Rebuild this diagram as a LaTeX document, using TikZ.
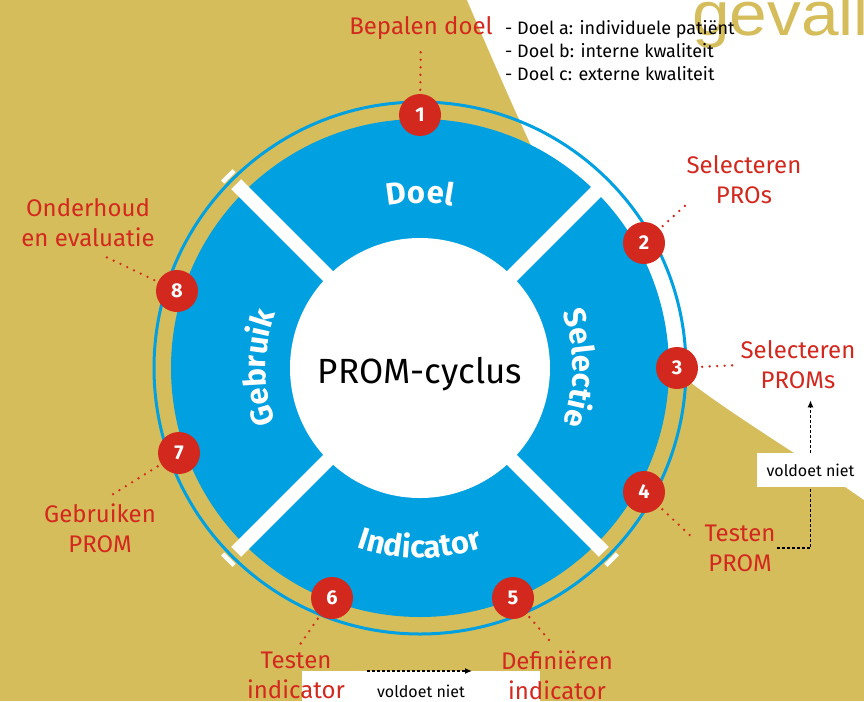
\documentclass[tikz,border=0pt]{standalone}
\usepackage{fontspec}
\setmainfont{Fira Sans}
\newfontfamily\gevfont{Liberation Sans}
\usetikzlibrary{arrows.meta,positioning,calc,decorations.text}

\definecolor{goud}{RGB}{214,189,92}
\definecolor{rvblauw}{RGB}{0,160,225}
\definecolor{rvrood}{RGB}{210,40,30}

\begin{document}
\begin{tikzpicture}[x=1pt, y=-1pt,
    nummer/.style={circle, fill=rvrood, text=white, minimum size=42pt, inner sep=0pt,
        font=\fontsize{20}{20}\selectfont\bfseries},
    stap/.style={text=rvrood, align=center, inner sep=1pt, font=\fontsize{24}{30}\selectfont},
    stippel/.style={draw=rvrood, line width=2.6pt, line cap=round, dash pattern=on 0pt off 7.5pt,
        shorten <=4pt, shorten >=6pt},
    terug/.style={draw=black, line width=1.3pt, dash pattern=on 3pt off 2pt},
    terugbox/.style={fill=white, inner sep=0pt, font=\fontsize{16}{16}\selectfont},
    balk/.style={draw=white, line width=14pt},
    sector/.style={decorate, decoration={text along path, text align=center, text color=white,
        text={|\fontsize{31}{31}\selectfont\bfseries|#1}}}]

    \useasboundingbox (0,0) rectangle (864,701);
    \fill[goud] (0,0) rectangle (864,701);
    \fill[white] (467,0) .. controls (540,170) and (600,310) .. (690,382)
        .. controls (740,420) and (800,455) .. (864,500) -- (864,0) -- cycle;

    \node[anchor=base west, inner sep=0pt, xscale=1.09, text=goud, font=\gevfont\fontsize{62}{62}\selectfont] (gev) at (692,36) {gevall};
    \node[anchor=north west, align=left, inner sep=0pt, font=\fontsize{18}{23}\selectfont] (doelen) at (505,20)
        {- Doel a: individuele patiënt\\- Doel b: interne kwaliteit\\- Doel c: externe kwaliteit};

    \coordinate (C) at (420,368);
    \draw[rvblauw, line width=3pt] (C) circle[radius=266];
    \fill[rvblauw] (C) circle[radius=249];
    \fill[white] (C) circle[radius=130];
    \foreach \a in {45,135,225,315} {
        \draw[balk] ($(C)+(\a:125)$) -- ($(C)+(\a:260)$);
        \draw[white, line width=4.5pt] ($(C)+(\a:271)+(\a+90:8)$) -- ($(C)+(\a:271)+(\a-90:8)$);
    }

    \path[sector=Doel] ($(C)+(-120:165)$) arc[start angle=-120, end angle=-60, radius=165];
    \path[sector=Selectie] ($(C)+(-40:153)$) arc[start angle=-40, end angle=40, radius=153];
    \path[sector=Indicator] ($(C)+(130:190)$) arc[start angle=130, end angle=50, radius=190];
    \path[sector=Gebruik] ($(C)+(-220:154)$) arc[start angle=-220, end angle=-140, radius=154];

    \node[anchor=base, font=\fontsize{35}{35}\selectfont] (prom) at (420,383) {PROM-cyclus};

    \node[nummer] (n1) at (420,115) {1};
    \node[nummer] (n2) at (644,243) {2};
    \node[nummer] (n3) at (677,368) {3};
    \node[nummer] (n4) at (644,492) {4};
    \node[nummer] (n5) at (513,598) {5};
    \node[nummer] (n6) at (332,598) {6};
    \node[nummer] (n7) at (179,453) {7};
    \node[nummer] (n8) at (177,291) {8};

    \node[terugbox, minimum width=107pt, minimum height=34pt] (vr) at (810.5,470) {voldoet niet};
    \node[terugbox, minimum width=238pt, minimum height=40pt] (vb) at (421,691) {voldoet niet};

    \node[stap] (l1) at (421,28) {Bepalen doel};
    \node[stap] (l2) at (744,180) {Selecteren\\PROs};
    \node[stap] (l3) at (798,365) {Selecteren\\PROMs};
    \node[stap] (l4) at (740,548) {Testen\\PROM};
    \node[stap] (l5) at (557,675) {Definiëren\\indicator};
    \node[stap] (l6) at (296,675) {Testen\\indicator};
    \node[stap] (l7) at (100,528) {Gebruiken\\PROM};
    \node[stap] (l8) at (88,223) {Onderhoud\\en evaluatie};

    \draw[stippel] (n1) -- (l1);
    \draw[stippel, shorten >=-6pt] (n2) -- (l2.south west);
    \draw[stippel] (n3) -- (l3.west);
    \draw[stippel, shorten >=12pt] (n4) -- (l4.west);
    \draw[stippel] (n5) -- (l5.north);
    \draw[stippel] (n6) -- (l6.north);
    \draw[stippel, shorten >=12pt] (n7) -- (l7.north);
    \draw[stippel, shorten >=20pt] (n8) -- (l8.south);

    \draw[terug] (l4.east) -| (vr.south);
    \draw[terug, -{Latex[length=7pt, width=6pt]}, shorten >=10pt] (vr.north) -- (vr.north |- l3.south);
    \coordinate (f6) at (367,671);
    \coordinate (f5) at (472,671);
    \draw[terug, -{Latex[length=7pt, width=6pt]}] (f6) -- (f5);
\end{tikzpicture}
\end{document}
